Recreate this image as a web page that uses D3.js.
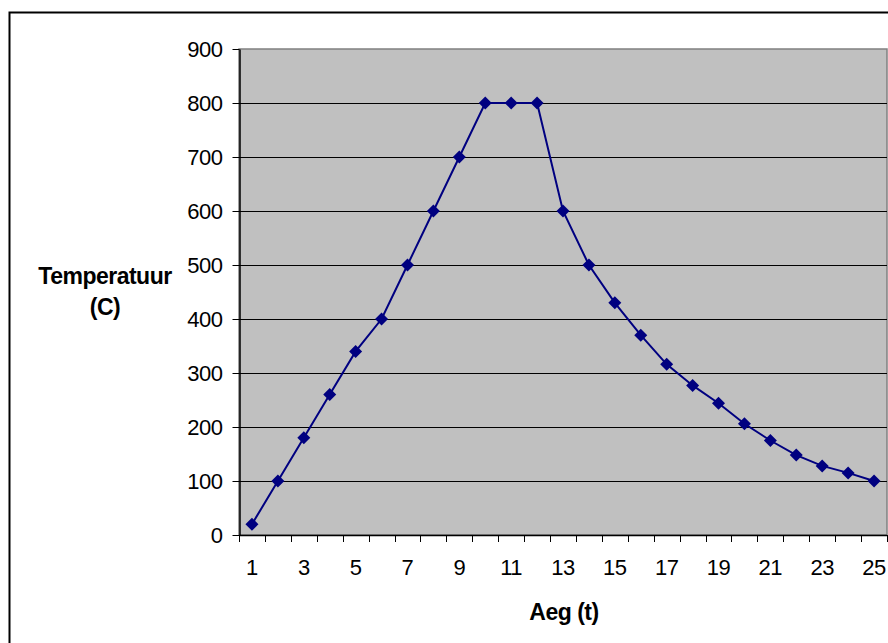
<!DOCTYPE html>
<html>
<head>
<meta charset="utf-8">
<script src="https://cdn.jsdelivr.net/npm/d3@7"></script>
<style>
  html, body { margin: 0; padding: 0; background: #fff; }
  svg { display: block; }
</style>
</head>
<body>
<div id="chart"></div>
<script>
// Temperature over time
const categories = d3.range(1, 26);
const temperatures = [20, 100, 180, 260, 340, 400, 500, 600, 700, 800, 800, 800, 600, 500, 430, 370, 316, 277, 244, 206, 175, 148, 128, 115, 100];
const yTicks = [0, 100, 200, 300, 400, 500, 600, 700, 800, 900];
const xLabels = categories.filter(d => d % 2 === 1);

const W = 888, H = 643;
const plot = { left: 239, top: 49, right: 887, bottom: 535 };

const svg = d3.select("#chart").append("svg")
  .attr("width", W).attr("height", H);

// chart frame
svg.append("rect")
  .attr("x", 9.5).attr("y", 12.5)
  .attr("width", W + 10).attr("height", H + 10)
  .attr("fill", "#fff").attr("stroke", "#000").attr("stroke-width", 2);

const x = d3.scaleBand().domain(categories).range([plot.left, plot.right]).padding(0);
const y = d3.scaleLinear().domain([0, 900]).range([plot.bottom, plot.top]);

// plot area
svg.append("rect")
  .attr("x", plot.left).attr("y", plot.top)
  .attr("width", plot.right - plot.left).attr("height", plot.bottom - plot.top)
  .attr("fill", "#c0c0c0").attr("stroke", "#808080").attr("stroke-width", 1.5);

// horizontal gridlines
svg.append("g").selectAll("line")
  .data(yTicks.filter(d => d > 0 && d < 900))
  .join("line")
  .attr("x1", plot.left).attr("x2", plot.right)
  .attr("y1", d => Math.round(y(d)) + 0.5).attr("y2", d => Math.round(y(d)) + 0.5)
  .attr("stroke", "#000").attr("stroke-width", 1);

const fontFamily = "Arial, 'Liberation Sans', sans-serif";

// y axis
const yAxis = d3.axisLeft(y).tickValues(yTicks).tickSize(7).tickPadding(10).tickSizeOuter(0);
const gy = svg.append("g")
  .attr("transform", `translate(${plot.left + 0.5},0)`)
  .call(yAxis);
gy.select(".domain").attr("stroke", "#000").attr("stroke-width", 1.5);
gy.selectAll(".tick line").attr("stroke", "#000");
gy.selectAll(".tick text")
  .attr("font-family", fontFamily).attr("font-size", 22).attr("fill", "#000")
  .attr("letter-spacing", -0.5);

// x axis: ticks between categories
const xBoundaries = d3.range(0, categories.length + 1).map(i => plot.left + i * x.bandwidth());
const gx = svg.append("g");
gx.append("line")
  .attr("x1", plot.left).attr("x2", plot.right)
  .attr("y1", plot.bottom + 0.5).attr("y2", plot.bottom + 0.5)
  .attr("stroke", "#000").attr("stroke-width", 1.5);
gx.selectAll("line.tick")
  .data(xBoundaries)
  .join("line")
  .attr("class", "tick")
  .attr("x1", d => Math.round(d) + 0.5).attr("x2", d => Math.round(d) + 0.5)
  .attr("y1", plot.bottom).attr("y2", plot.bottom + 7)
  .attr("stroke", "#000").attr("stroke-width", 1);
gx.selectAll("text")
  .data(xLabels)
  .join("text")
  .attr("x", d => x(d) + x.bandwidth() / 2)
  .attr("y", 575)
  .attr("text-anchor", "middle")
  .attr("font-family", fontFamily).attr("font-size", 22).attr("fill", "#000")
  .attr("letter-spacing", -0.5)
  .text(d => d);

// series line
const line = d3.line()
  .x((d, i) => x(categories[i]) + x.bandwidth() / 2)
  .y(d => y(d));
svg.append("path")
  .datum(temperatures)
  .attr("d", line)
  .attr("fill", "none")
  .attr("stroke", "#000080")
  .attr("stroke-width", 2);

// diamond markers
svg.append("g").selectAll("path")
  .data(temperatures)
  .join("path")
  .attr("transform", (d, i) => `translate(${x(categories[i]) + x.bandwidth() / 2},${y(d)})`)
  .attr("d", "M0,-6.5L6.5,0L0,6.5L-6.5,0Z")
  .attr("fill", "#000080");

// axis titles
svg.append("text")
  .attr("x", 564).attr("y", 620)
  .attr("text-anchor", "middle")
  .attr("font-family", fontFamily).attr("font-size", 23).attr("font-weight", "bold")
  .attr("letter-spacing", -0.5)
  .text("Aeg (t)");

const yTitle = svg.append("text")
  .attr("text-anchor", "middle")
  .attr("font-family", fontFamily).attr("font-size", 23).attr("font-weight", "bold")
  .attr("letter-spacing", -0.5);
yTitle.append("tspan").attr("x", 105).attr("y", 284).text("Temperatuur");
yTitle.append("tspan").attr("x", 105).attr("y", 315).text("(C)");
</script>
</body>
</html>
